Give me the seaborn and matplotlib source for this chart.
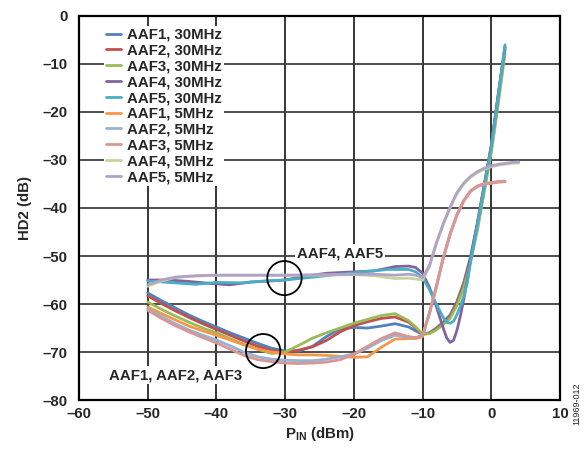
import matplotlib
matplotlib.use("Agg")
import matplotlib.pyplot as plt
import seaborn as sns
from matplotlib.patches import Ellipse

# Data
# AAF4/AAF5 at 30MHz (upper group)
x_aaf4_30 = [-50, -47, -44, -41, -38, -35, -32, -30, -27, -24, -20, -17, -14, -12, -11, -10, -9, -8, -7, -6.5, -6, -5.5, -5, -4.5, -4, -3.5, -3, -2, -1, 0, 1, 2]
y_aaf4_30 = [-55, -55, -55.3, -55.7, -56, -55.4, -55.2, -55, -54.2, -53.6, -53.3, -53.1, -52.2, -52.1, -52.4, -53.6, -56.5, -60.5, -65, -67, -68, -67.6, -65.5, -62.5, -59, -55, -50.5, -43, -35, -27, -16.5, -6.5]
x_aaf5_30 = [-50, -46, -43, -40, -36, -33, -30, -26, -22, -18, -15, -12, -11, -10, -9, -8, -7, -6.5, -6, -5.5, -5, -4.5, -4, -3.5, -3, -2, -1, 0, 1, 2]
y_aaf5_30 = [-55.2, -55.6, -55.9, -55.5, -55.6, -55.2, -55, -54.4, -53.8, -53.2, -52.8, -52.8, -53.3, -54.5, -57, -60, -62.8, -63.8, -64, -63.6, -62.2, -60.5, -58.3, -55.6, -51, -43.5, -35.3, -27.3, -16.8, -6]
# AAF1/2/3 at 30MHz (lower group)
x_low30 = [-50, -48, -46, -44, -42, -40, -38, -36, -34, -32, -30, -28, -26, -24, -22, -20, -18, -16, -14, -12, -11, -10, -9, -8, -7, -6, -5, -4, -3, -2, -1, 0, 1, 2]
y_aaf1_30 = [-57.7, -59.3, -60.8, -62.3, -63.6, -64.8, -66, -67.1, -68.2, -69.2, -69.8, -69.8, -68.8, -66.8, -65.2, -64.9, -65, -64.6, -64.1, -64.8, -65.6, -66.3, -66, -65, -63.8, -62.3, -59.5, -55.5, -50, -43, -35, -27, -16.5, -6.3]
y_aaf2_30 = [-58.3, -59.9, -61.4, -62.8, -64.1, -65.3, -66.5, -67.7, -68.8, -69.7, -70, -69.6, -68.9, -67.6, -65.8, -64.5, -63.7, -63, -62.7, -63.8, -65, -66.3, -66.1, -65.2, -64, -62.6, -59.8, -56, -50.5, -43.5, -35.5, -27.5, -17, -7]
y_aaf3_30 = [-59.6, -61.1, -62.5, -63.8, -65, -66, -67.2, -68.4, -69.4, -70.3, -70, -68.6, -67.1, -66, -65, -64, -63.2, -62.4, -62, -63.5, -64.8, -66.2, -66.2, -65.4, -64.3, -63, -60.3, -56.6, -51.2, -44.5, -36.5, -28.5, -18.5, -7.8]
# AAF1/2/3 at 5MHz
x_low5 = [-50, -48, -46, -44, -42, -40, -38, -36, -34, -32, -30, -28, -26, -24, -22, -20, -18, -16, -14, -12, -11, -10, -9, -8, -7, -6, -5, -4, -3, -2, -1, 0, 1, 2]
y_aaf1_5 = [-60.6, -62, -63.3, -64.6, -65.6, -66.5, -67.5, -68.5, -69.4, -70, -70.4, -70.6, -70.6, -70.7, -70.9, -71.1, -71, -69, -67.3, -67.2, -67.2, -66.8, -61.8, -56.3, -50.4, -45.4, -41.4, -38.4, -36.4, -35.4, -34.9, -34.7, -34.5, -34.4]
y_aaf2_5 = [-61, -62.6, -64.1, -65.4, -66.5, -67.5, -68.7, -70, -71, -71.5, -71.7, -71.8, -71.8, -71.5, -71, -70.4, -69.2, -67.6, -66.5, -67, -67, -66.6, -61.9, -56.4, -50.5, -45.5, -41.5, -38.5, -36.5, -35.5, -35, -34.8, -34.6, -34.5]
y_aaf3_5 = [-61.3, -63, -64.5, -65.8, -67, -68.1, -69.4, -70.7, -71.6, -72, -72.3, -72.4, -72.3, -72.1, -71.6, -70.5, -68.8, -67.2, -66, -66.8, -67, -66.5, -62, -56.5, -50.5, -45.5, -41.5, -38.5, -36.5, -35.5, -35, -34.8, -34.6, -34.5]
# AAF4/AAF5 at 5MHz
x_up5 = [-50, -48, -46, -43, -40, -35, -30, -25, -20, -17, -14, -12, -11, -10, -9, -8, -7, -6, -5, -4, -3, -2, -1, 0, 1, 2, 3, 4]
y_aaf4_5 = [-56.3, -55.2, -54.5, -54.2, -54, -54, -54, -54, -53.9, -54.1, -54.7, -54.6, -54.8, -55, -52.2, -47.5, -43.5, -40, -37, -35, -33.6, -32.6, -31.9, -31.4, -31.1, -30.9, -30.7, -30.6]
y_aaf5_5 = [-56, -55, -54.4, -54.1, -54, -54, -54, -53.9, -53.8, -53.8, -54, -53.8, -54, -54.5, -52, -47.3, -43.3, -39.8, -36.8, -34.8, -33.4, -32.4, -31.7, -31.2, -30.9, -30.7, -30.5, -30.4]

series = [
    ("AAF1, 30MHz", x_low30, y_aaf1_30, "#4F81BD"),
    ("AAF2, 30MHz", x_low30, y_aaf2_30, "#C0504D"),
    ("AAF3, 30MHz", x_low30, y_aaf3_30, "#9BBB59"),
    ("AAF4, 30MHz", x_aaf4_30, y_aaf4_30, "#8064A2"),
    ("AAF5, 30MHz", x_aaf5_30, y_aaf5_30, "#4BACC6"),
    ("AAF1, 5MHz", x_low5, y_aaf1_5, "#F79646"),
    ("AAF2, 5MHz", x_low5, y_aaf2_5, "#95B3D7"),
    ("AAF3, 5MHz", x_low5, y_aaf3_5, "#D99694"),
    ("AAF4, 5MHz", x_up5, y_aaf4_5, "#C3D69B"),
    ("AAF5, 5MHz", x_up5, y_aaf5_5, "#B3A2C7"),
]

x_ticks = [-60, -50, -40, -30, -20, -10, 0, 10]
y_ticks = [-80, -70, -60, -50, -40, -30, -20, -10, 0]

FS = 10.8

sns.set_style("white")
plt.rcParams["font.family"] = ["Liberation Sans", "DejaVu Sans"]
plt.rcParams["mathtext.fontset"] = "custom"
plt.rcParams["mathtext.bf"] = "Liberation Sans:bold"
plt.rcParams["mathtext.rm"] = "Liberation Sans:bold"

fig = plt.figure(figsize=(5.87, 4.49), dpi=100)
ax = fig.add_axes([0.1346, 0.1091, 0.8194, 0.8553])

for name, xs, ys, col in series:
    sns.lineplot(x=xs, y=ys, color=col, label=name, linewidth=2.0, ax=ax,
                 sort=False, estimator=None)

ax.set_xlim(-60, 10)
ax.set_ylim(-80, 0)
ax.set_xticks(x_ticks)
ax.set_yticks(y_ticks)
ax.set_xticklabels([("–%d" % -v) if v < 0 else str(v) for v in x_ticks],
                   fontweight="bold", fontsize=FS)
ax.set_yticklabels([("–%d" % -v) if v < 0 else str(v) for v in y_ticks],
                   fontweight="bold", fontsize=FS)
ax.tick_params(axis="both", length=0)
ax.tick_params(axis="y", pad=8)
ax.tick_params(axis="x", pad=5)

ax.xaxis.grid(True, color="black", linewidth=1.1)
ax.yaxis.grid(True, color="#404040", linewidth=1.3)
ax.set_axisbelow(True)
for sp in ax.spines.values():
    sp.set_color("black")
    sp.set_linewidth(1.6)

ax.set_xlabel(r"P$_{\mathbf{IN}}$ (dBm)", fontweight="bold", fontsize=FS, labelpad=3)
ax.set_ylabel("HD2 (dB)", fontweight="bold", fontsize=FS, labelpad=8)

leg = ax.legend(loc="upper left", bbox_to_anchor=(0.052, 0.975), frameon=True,
                fontsize=FS, handlelength=1.0, handletextpad=0.35,
                labelspacing=0.12, borderpad=0.15, borderaxespad=0.0)
leg.get_frame().set_facecolor("white")
leg.get_frame().set_edgecolor("none")
leg.get_frame().set_alpha(1)
for t in leg.get_texts():
    t.set_fontweight("bold")

# circles and group labels
ax.add_patch(Ellipse((-30.1, -54.6), 5.0, 7.1, fill=False, edgecolor="black", linewidth=1.3, zorder=5))
ax.add_patch(Ellipse((-33.2, -69.8), 5.0, 7.1, fill=False, edgecolor="black", linewidth=1.3, zorder=5))
ax.text(-28.3, -49.4, "AAF4, AAF5", fontweight="bold", fontsize=FS, va="center", ha="left",
        bbox=dict(facecolor="white", edgecolor="none", pad=1.5), zorder=6)
ax.text(-55.7, -74.8, "AAF1, AAF2, AAF3", fontweight="bold", fontsize=FS, va="center", ha="left",
        bbox=dict(facecolor="white", edgecolor="none", pad=1.5), zorder=6)

fig.text(0.983, 0.1, "11969-012", rotation=90, fontsize=6.5, ha="center", va="center")

fig.savefig("out.png", dpi=100)
